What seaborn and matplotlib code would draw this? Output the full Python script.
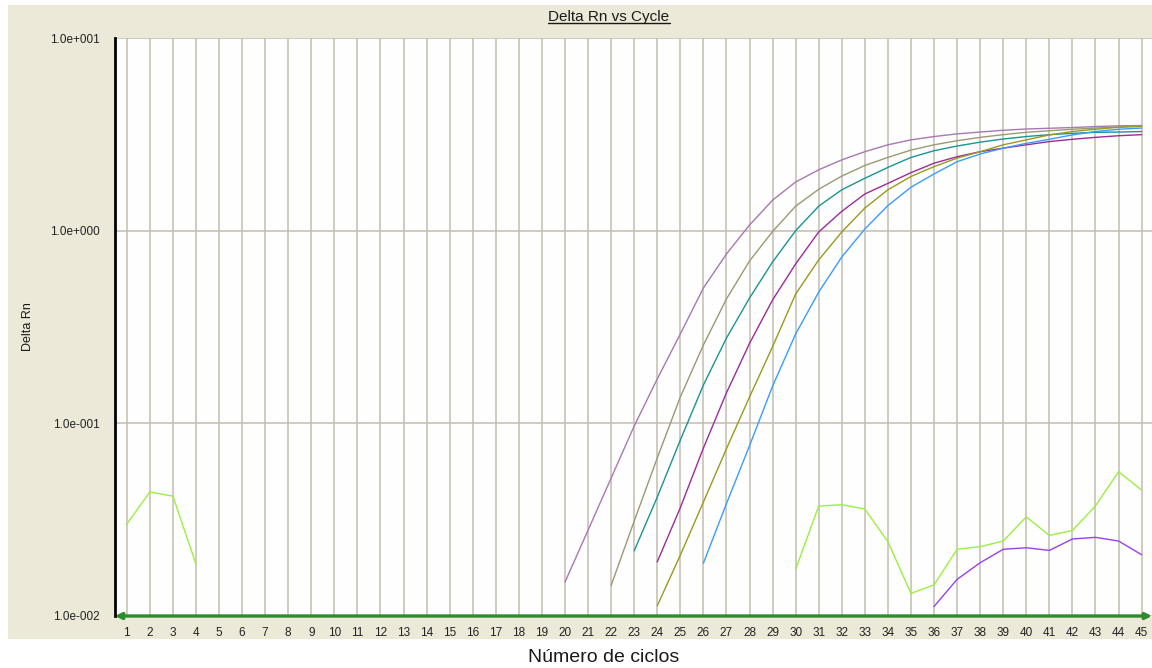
import matplotlib
matplotlib.use("Agg")
import matplotlib.pyplot as plt
from matplotlib.patches import Rectangle, FancyArrowPatch
from matplotlib.lines import Line2D
import pandas as pd
import seaborn as sns

# Amplification traces (Delta Rn per cycle)
cycles_a = list(range(20, 46))
rn_a = [0.0150, 0.0279, 0.0520, 0.0968, 0.170, 0.291, 0.504, 0.757, 1.07, 1.44,
        1.79, 2.07, 2.33, 2.57, 2.79, 2.96, 3.08, 3.18, 3.25, 3.32,
        3.37, 3.40, 3.43, 3.47, 3.50, 3.51]

cycles_b = list(range(22, 46))
rn_b = [0.0144, 0.0311, 0.0661, 0.137, 0.255, 0.442, 0.696, 0.99, 1.34, 1.64,
        1.92, 2.18, 2.40, 2.62, 2.79, 2.93, 3.05, 3.15, 3.24, 3.30,
        3.36, 3.41, 3.45, 3.50]

cycles_c = list(range(23, 46))
rn_c = [0.0218, 0.0414, 0.0819, 0.158, 0.277, 0.447, 0.688, 1.00, 1.34, 1.63,
        1.87, 2.13, 2.40, 2.60, 2.75, 2.88, 2.99, 3.08, 3.15, 3.20,
        3.24, 3.25, 3.27]

cycles_d = list(range(24, 46))
rn_d = [0.0191, 0.0365, 0.0744, 0.144, 0.260, 0.437, 0.672, 0.985, 1.26, 1.55,
        1.76, 2.00, 2.24, 2.42, 2.57, 2.68, 2.79, 2.90, 2.98, 3.05,
        3.11, 3.15]

cycles_e = list(range(24, 46))
rn_e = [0.0113, 0.0207, 0.0390, 0.0738, 0.137, 0.250, 0.469, 0.705, 0.985, 1.31,
        1.63, 1.91, 2.15, 2.38, 2.57, 2.79, 2.96, 3.14, 3.27, 3.36,
        3.44, 3.48]

cycles_f = list(range(26, 46))
rn_f = [0.0188, 0.0383, 0.0765, 0.156, 0.291, 0.480, 0.730, 1.02, 1.35, 1.68,
        1.97, 2.28, 2.50, 2.68, 2.84, 2.98, 3.14, 3.27, 3.36, 3.41]

# Background-level traces
cycles_g1 = [1, 2, 3, 4]
rn_g1 = [0.0300, 0.0440, 0.0419, 0.0186]
cycles_g2 = list(range(30, 46))
rn_g2 = [0.0175, 0.0372, 0.0378, 0.0359, 0.0243, 0.0131, 0.0145, 0.0222,
         0.0229, 0.0245, 0.0327, 0.0262, 0.0278, 0.0373, 0.0561, 0.0450]

cycles_h = list(range(36, 46))
rn_h = [0.0112, 0.0155, 0.0189, 0.0222, 0.0226, 0.0219, 0.0251, 0.0256,
        0.0245, 0.0208]

x_ticks = list(range(1, 46))
y_ticks = [0.01, 0.1, 1.0, 10.0]
y_labels = ["1.0e-002", "1.0e-001", "1.0e+000", "1.0e+001"]

title = "Delta Rn vs Cycle"
x_title = "Número de ciclos"
y_title = "Delta Rn"

traces = {
    "A": (cycles_a, rn_a, "#A878B0"),
    "B": (cycles_b, rn_b, "#9A9A72"),
    "C": (cycles_c, rn_c, "#1A9494"),
    "D": (cycles_d, rn_d, "#9C2C98"),
    "E": (cycles_e, rn_e, "#9A9A1C"),
    "F": (cycles_f, rn_f, "#3A9CFF"),
    "G1": (cycles_g1, rn_g1, "#99F040"),
    "G2": (cycles_g2, rn_g2, "#99F040"),
    "H": (cycles_h, rn_h, "#9940F0"),
}

rows = []
for name, (cyc, vals, _) in traces.items():
    for c, v in zip(cyc, vals):
        rows.append({"cycle": c, "delta_rn": v, "trace": name})
df = pd.DataFrame(rows)
palette = {name: t[2] for name, t in traces.items()}

sns.set_style("white")
plt.rcParams["font.family"] = ["Liberation Sans", "DejaVu Sans"]

W, H = 1152, 668
fig = plt.figure(figsize=(W / 100, H / 100), dpi=100, facecolor="white")

# beige panel behind the plot
fig.patches.append(Rectangle((8 / W, 1 - 639 / H), (W - 8) / W, (639 - 5) / H,
                             transform=fig.transFigure, facecolor="#ECE9D8",
                             edgecolor="none", zorder=-10))

left, right, top, bottom = 115, 1152, 38, 616
ax = fig.add_axes([left / W, 1 - bottom / H, (right - left) / W, (bottom - top) / H])
ax.set_zorder(2)
ax.set_facecolor("#FEFEFE")

sns.lineplot(data=df, x="cycle", y="delta_rn", hue="trace", palette=palette,
             estimator=None, linewidth=1.0, legend=False, ax=ax, zorder=3)

ax.set_yscale("log")
ax.set_ylim(0.01, 10)
ax.set_xlim(0.49, 45.45)
ax.set_yticks(y_ticks)
ax.set_yticklabels(y_labels)
ax.minorticks_off()
ax.set_xticks(x_ticks)
ax.set_xticklabels([str(t) for t in x_ticks])
ax.tick_params(axis="both", length=0, labelsize=8.5, labelcolor="#222222")
ax.tick_params(axis="y", pad=11)
ax.tick_params(axis="x", pad=8)
ax.set_xlabel("")
ax.set_ylabel("")

ax.grid(True, which="major", color="#C2BEB0", linewidth=1.1, zorder=1)
ax.set_axisbelow(True)

for side in ["top", "right", "bottom"]:
    ax.spines[side].set_visible(False)
ax.spines["left"].set_color("black")
ax.spines["left"].set_linewidth(2.0)

# green double-headed cycle axis
ax.add_patch(FancyArrowPatch((0.0, 0.0), (1.0, 0.0), transform=ax.transAxes,
                             arrowstyle="<|-|>", mutation_scale=9, linewidth=2.4,
                             color="#2E8B2E", clip_on=False, zorder=5,
                             shrinkA=0, shrinkB=0))

# titles
t = fig.text(609 / W, 1 - 21 / H, title, ha="center", va="baseline",
             fontsize=11, color="#1A1A1A")
fig.canvas.draw()
bb = t.get_window_extent(fig.canvas.get_renderer())
fig.lines.append(Line2D([bb.x0 / W, bb.x1 / W], [1 - 23 / H, 1 - 23 / H],
                        transform=fig.transFigure, color="#1A1A1A", linewidth=1.0))

fig.text(28 / W, 1 - 327 / H, y_title, rotation=90, ha="center", va="center",
         fontsize=9, color="#1A1A1A")
fig.text(604 / W, 1 - 658 / H, x_title, ha="center", va="center",
         fontsize=14, color="#1A1A1A")

fig.savefig("out.png", dpi=100, facecolor="white")
